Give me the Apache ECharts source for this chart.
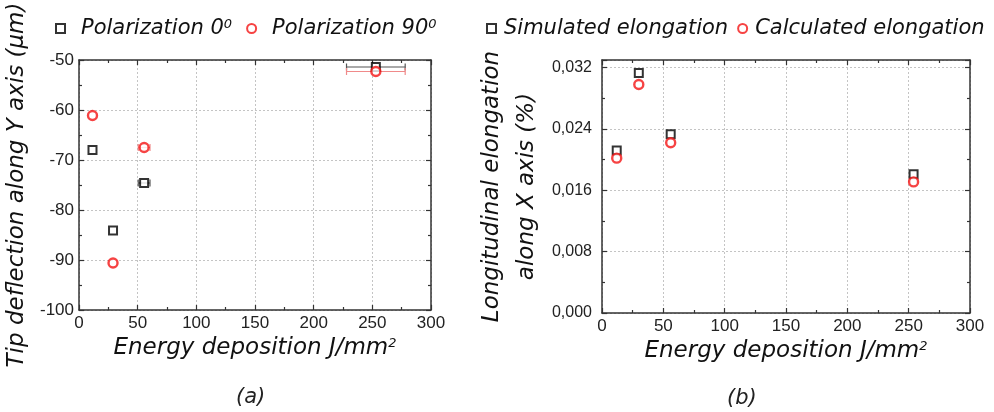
<!DOCTYPE html>
<html>
<head>
<meta charset="utf-8">
<script src="https://cdn.jsdelivr.net/npm/echarts@6/dist/echarts.min.js"></script>
<style>
  html, body { margin: 0; padding: 0; background: #fff; }
  #chart { width: 994px; height: 412px; }
</style>
</head>
<body>
<div id="chart"></div>
<script>
// Panel (a): tip deflection along Y versus energy deposition
const energyA = [11.5, 29, 55.5, 253];
const energyErrA = [0, 0, 5, 25];
const deflectionPol0 = [-68.0, -84.1, -74.6, -51.4];
const deflectionPol90 = [-61.1, -90.6, -67.5, -52.3];

// Panel (b): longitudinal elongation along X versus energy deposition
const energyB = [12, 30, 56, 254];
const elongSimulated = [0.0212, 0.0313, 0.0233, 0.0181];
const elongCalculated = [0.0202, 0.0298, 0.0222, 0.0171];

// Tick values
const energyTicks = [0, 50, 100, 150, 200, 250, 300];
const deflectionTicks = [-100, -90, -80, -70, -60, -50];
const elongationTicks = [0, 0.008, 0.016, 0.024, 0.032];
const elongationTop = 0.033;

const AXIS_COLOR = '#333';
const LABEL_FONT = "'Liberation Sans', Arial, sans-serif";
const TITLE_FONT = "'DejaVu Sans', Verdana, sans-serif";

function baseAxis(ticks, extra) {
  return Object.assign({
    type: 'value',
    min: ticks[0],
    max: ticks[ticks.length - 1],
    interval: ticks[1] - ticks[0],
    axisLine: { show: true, onZero: false, lineStyle: { color: AXIS_COLOR, width: 1.5 } },
    axisTick: { show: true, inside: true, length: 5, lineStyle: { color: AXIS_COLOR, width: 1.2 } },
    minorTick: { show: true, splitNumber: 2, length: 3, lineStyle: { color: AXIS_COLOR, width: 1.2 } },
    axisLabel: { show: true, color: '#222', fontFamily: LABEL_FONT, fontSize: 17, margin: 5 },
    splitLine: { show: true, lineStyle: { type: [2, 2], color: '#c4c4c4', width: 1 } },
    minorSplitLine: { show: false }
  }, extra || {});
}

function mirrorAxis(ticks, extra) {
  return baseAxis(ticks, Object.assign({
    axisLabel: { show: false },
    splitLine: { show: false }
  }, extra));
}

const titleStyle = {
  fontFamily: TITLE_FONT,
  fontStyle: 'italic',
  fontSize: 23,
  color: '#111',
  rich: {
    sup: { fontFamily: TITLE_FONT, fontStyle: 'italic', fontSize: 13, color: '#111', verticalAlign: 'top', lineHeight: 12 }
  }
};

function errorBarSeries(xs, ys, errs, color, xIdx, yIdx) {
  const data = [];
  xs.forEach((x, i) => { if (errs[i] > 0) data.push([x, ys[i], errs[i]]); });
  return {
    type: 'custom',
    xAxisIndex: xIdx,
    yAxisIndex: yIdx,
    z: 1,
    silent: true,
    encode: { x: 0, y: 1 },
    data: data,
    renderItem: function (params, api) {
      const x = api.value(0), y = api.value(1), e = api.value(2);
      const a = api.coord([x - e, y]);
      const b = api.coord([x + e, y]);
      const cap = 3.5;
      const st = { stroke: color, lineWidth: 1.2 };
      return {
        type: 'group',
        children: [
          { type: 'line', shape: { x1: a[0], y1: a[1], x2: b[0], y2: b[1] }, style: st },
          { type: 'line', shape: { x1: a[0], y1: a[1] - cap, x2: a[0], y2: a[1] + cap }, style: st },
          { type: 'line', shape: { x1: b[0], y1: b[1] - cap, x2: b[0], y2: b[1] + cap }, style: st }
        ]
      };
    }
  };
}

const squareStyle = { color: '#fff', borderColor: '#000', borderWidth: 2 };
const circleStyle = { color: '#fff', borderColor: '#f41414', borderWidth: 2.4 };

function zip(a, b) { return a.map((v, i) => [v, b[i]]); }

function legendText(pad) {
  return {
    fontFamily: TITLE_FONT,
    fontStyle: 'italic',
    fontSize: 21,
    color: '#111',
    padding: [0, 0, 0, pad],
    rich: {
      sup: { fontFamily: TITLE_FONT, fontStyle: 'italic', fontSize: 13, color: '#111', verticalAlign: 'top', lineHeight: 12 }
    }
  };
}

const option = {
  animation: false,
  backgroundColor: '#fff',
  grid: [
    { left: 79, top: 60, width: 352, height: 250 },
    { left: 602, top: 60, width: 368, height: 253 }
  ],
  legend: [
    {
      left: 55, top: 18, padding: 0, itemWidth: 9, itemHeight: 9, itemGap: 14,
      data: ['Polarization 0', 'Polarization 90'],
      formatter: n => n + '{sup|0}',
      textStyle: legendText(11)
    },
    {
      left: 486, top: 18, padding: 0, itemWidth: 9, itemHeight: 9, itemGap: 9,
      width: 508,
      data: ['Simulated elongation', 'Calculated elongation'],
      textStyle: legendText(3)
    }
  ],
  xAxis: [
    baseAxis(energyTicks, {
      gridIndex: 0, position: 'bottom',
      name: 'Energy deposition J/mm{sup|2}', nameLocation: 'middle', nameGap: 26,
      nameTextStyle: titleStyle
    }),
    mirrorAxis(energyTicks, { gridIndex: 0, position: 'top' }),
    baseAxis(energyTicks, {
      gridIndex: 1, position: 'bottom',
      name: 'Energy deposition J/mm{sup|2}', nameLocation: 'middle', nameGap: 27,
      nameTextStyle: titleStyle
    }),
    mirrorAxis(energyTicks, { gridIndex: 1, position: 'top' })
  ],
  yAxis: [
    baseAxis(deflectionTicks, {
      gridIndex: 0, position: 'left',
      name: 'Tip deflection along Y axis (\u03bcm)', nameLocation: 'middle', nameGap: 50, nameRotate: 90,
      nameTextStyle: titleStyle
    }),
    mirrorAxis(deflectionTicks, { gridIndex: 0, position: 'right' }),
    baseAxis(elongationTicks, {
      gridIndex: 1, position: 'left', max: elongationTop,
      name: 'Longitudinal elongation\nalong X axis (%)', nameLocation: 'middle', nameGap: 57, nameRotate: 90,
      nameTextStyle: Object.assign({}, titleStyle, { lineHeight: 35 }),
      axisLabel: {
        show: true, color: '#222', fontFamily: LABEL_FONT, fontSize: 16, margin: 10, showMaxLabel: false,
        formatter: v => v.toFixed(3).replace('.', ',')
      }
    }),
    mirrorAxis(elongationTicks, { gridIndex: 1, position: 'right', max: elongationTop })
  ],
  graphic: [
    { type: 'text', left: 236, top: 387, style: { text: '(a)', font: "italic 21px 'DejaVu Sans'", fill: '#222' } },
    { type: 'text', left: 727, top: 388, style: { text: '(b)', font: "italic 21px 'DejaVu Sans'", fill: '#222' } }
  ],
  series: [
    errorBarSeries(energyA, deflectionPol0, energyErrA, '#555', 0, 0),
    errorBarSeries(energyA, deflectionPol90, energyErrA, '#f08a8a', 0, 0),
    {
      name: 'Polarization 0', type: 'scatter', xAxisIndex: 0, yAxisIndex: 0, z: 3,
      symbol: 'rect', symbolSize: 8, itemStyle: squareStyle,
      data: zip(energyA, deflectionPol0)
    },
    {
      name: 'Polarization 90', type: 'scatter', xAxisIndex: 0, yAxisIndex: 0, z: 4,
      symbol: 'circle', symbolSize: 9, itemStyle: circleStyle,
      data: zip(energyA, deflectionPol90)
    },
    {
      name: 'Simulated elongation', type: 'scatter', xAxisIndex: 2, yAxisIndex: 2, z: 3,
      symbol: 'rect', symbolSize: 8, itemStyle: squareStyle,
      data: zip(energyB, elongSimulated)
    },
    {
      name: 'Calculated elongation', type: 'scatter', xAxisIndex: 2, yAxisIndex: 2, z: 4,
      symbol: 'circle', symbolSize: 9, itemStyle: circleStyle,
      data: zip(energyB, elongCalculated)
    }
  ]
};

const chart = echarts.init(document.getElementById('chart'), null, { renderer: 'canvas' });
chart.setOption(option);
</script>
</body>
</html>
